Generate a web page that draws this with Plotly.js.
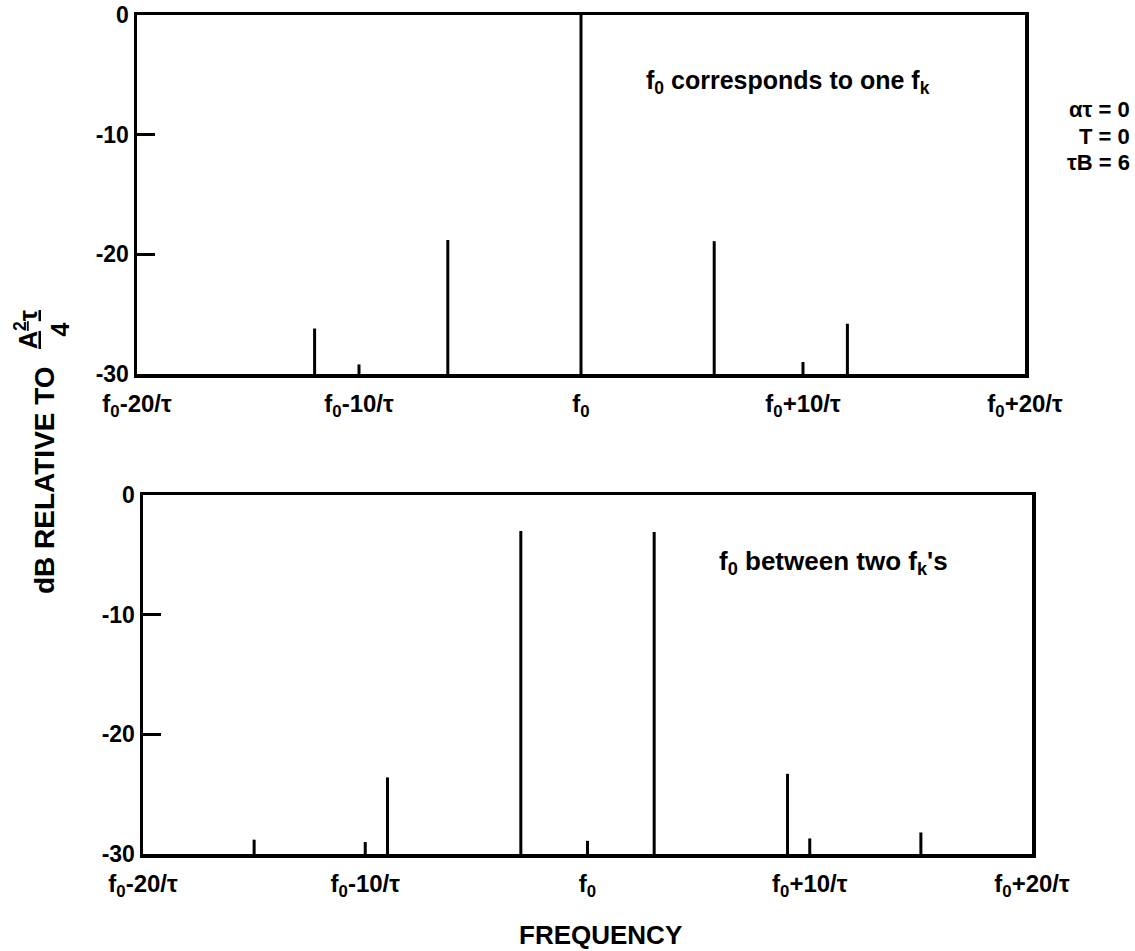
<!DOCTYPE html>
<html>
<head>
<meta charset="utf-8">
<script src="https://cdn.plot.ly/plotly-3.0.1.min.js"></script>
<style>html,body{margin:0;padding:0;background:#fff;}#chart{width:1135px;height:951px;}</style>
</head>
<body>
<div id="chart"></div>
<script>
// Frequency offsets from f0 in units of 1/tau, levels in dB relative to A^2 tau / 4
const topFreq = [-12, -10, -6, 0, 6, 10, 12];
const topLevel = [-26.2, -29.2, -18.8, 0, -18.9, -29.0, -25.8];
const botFreq = [-15, -10, -9, -3, 0, 3, 9, 10, 15];
const botLevel = [-28.8, -29.0, -23.6, -3.0, -28.9, -3.1, -23.3, -28.7, -28.2];
const xTickVals = [-20, -10, 0, 10, 20];
const xTickText = ['f<sub>0</sub>-20/τ', 'f<sub>0</sub>-10/τ', 'f<sub>0</sub>', 'f<sub>0</sub>+10/τ', 'f<sub>0</sub>+20/τ'];
const yTickVals = [0, -10, -20, -30];
const yTickText = ['0', '-10', '-20', '-30'];
const paramLines = ['ατ = 0', 'T = 0', 'τB = 6'];
const floorDb = -30;

function stems(fr, lv) {
  const x = [], y = [];
  for (let i = 0; i < fr.length; i++) {
    x.push(fr[i], fr[i], null);
    y.push(floorDb, lv[i], null);
  }
  return {x, y};
}
const s1 = stems(topFreq, topLevel);
const s2 = stems(botFreq, botLevel);

const FONT = 'Liberation Sans, Arial, Helvetica, sans-serif';
const traces = [
  {x: s1.x, y: s1.y, mode: 'lines', line: {color: '#000', width: 3}, xaxis: 'x', yaxis: 'y', hoverinfo: 'skip', showlegend: false},
  {x: s2.x, y: s2.y, mode: 'lines', line: {color: '#000', width: 3}, xaxis: 'x2', yaxis: 'y2', hoverinfo: 'skip', showlegend: false}
];

function xa(domain, anchor) {
  return {domain: domain, anchor: anchor, range: [-20, 20], showgrid: false, zeroline: false,
    showline: true, mirror: true, linecolor: '#000', linewidth: 3.5, ticks: '',
    tickmode: 'array', tickvals: xTickVals, ticktext: xTickText, ticklabelstandoff: 6,
    tickfont: {family: FONT, size: 24, color: '#000', weight: 'bold'}, automargin: false, fixedrange: true};
}
function ya(domain, anchor) {
  return {domain: domain, anchor: anchor, range: [-30, 0], showgrid: false, zeroline: false,
    showline: true, mirror: true, linecolor: '#000', linewidth: 3.5,
    ticks: 'inside', ticklen: 18, tickwidth: 3, tickcolor: '#000',
    tickmode: 'array', tickvals: yTickVals, ticktext: yTickText,
    tickfont: {family: FONT, size: 23, color: '#000', weight: 'bold'}, automargin: false, fixedrange: true};
}

const W = 1135, H = 951;
const annotations = [
  {text: 'f<sub>0</sub> corresponds to one f<sub>k</sub>', xref: 'paper', yref: 'paper', x: 788 / W, y: 1 - 82 / H,
   xanchor: 'center', yanchor: 'middle', showarrow: false, font: {family: FONT, size: 25, weight: 'bold'}},
  {text: 'f<sub>0</sub> between two f<sub>k</sub>\'s', xref: 'paper', yref: 'paper', x: 833 / W, y: 1 - 562 / H,
   xanchor: 'center', yanchor: 'middle', showarrow: false, font: {family: FONT, size: 26, weight: 'bold'}},
  {text: 'FREQUENCY', xref: 'paper', yref: 'paper', x: 600 / W, y: 1 - 935 / H,
   xanchor: 'center', yanchor: 'middle', showarrow: false, font: {family: FONT, size: 26, weight: 'bold'}},
  {text: 'dB RELATIVE TO', xref: 'paper', yref: 'paper', x: 44 / W, y: 1 - 480 / H, textangle: -90,
   xanchor: 'center', yanchor: 'middle', showarrow: false, font: {family: FONT, size: 28, weight: 'bold'}},
  {text: '<u>A<sup>2</sup>τ</u><br>4', xref: 'paper', yref: 'paper', x: 42 / W, y: 1 - 330 / H, textangle: -90,
   xanchor: 'center', yanchor: 'middle', showarrow: false, font: {family: FONT, size: 25, weight: 'bold'}}
];
const paramY = [110, 136, 162];
paramLines.forEach(function (t, i) {
  annotations.push({text: t, xref: 'paper', yref: 'paper', x: 1132 / W, y: 1 - paramY[i] / H,
    xanchor: 'right', yanchor: 'middle', showarrow: false, font: {family: FONT, size: 22, weight: 'bold'}});
});

const layout = {
  width: W, height: H,
  margin: {l: 0, r: 0, t: 0, b: 0},
  paper_bgcolor: '#fff', plot_bgcolor: '#fff',
  showlegend: false,
  font: {family: FONT, color: '#000'},
  xaxis: xa([137 / W, 1025 / W], 'y'),
  yaxis: ya([1 - 374 / H, 1 - 15 / H], 'x'),
  xaxis2: xa([143 / W, 1032 / W], 'y2'),
  yaxis2: ya([1 - 854 / H, 1 - 495 / H], 'x2'),
  annotations: annotations
};

Plotly.newPlot('chart', traces, layout, {displayModeBar: false, staticPlot: true});
</script>
</body>
</html>
